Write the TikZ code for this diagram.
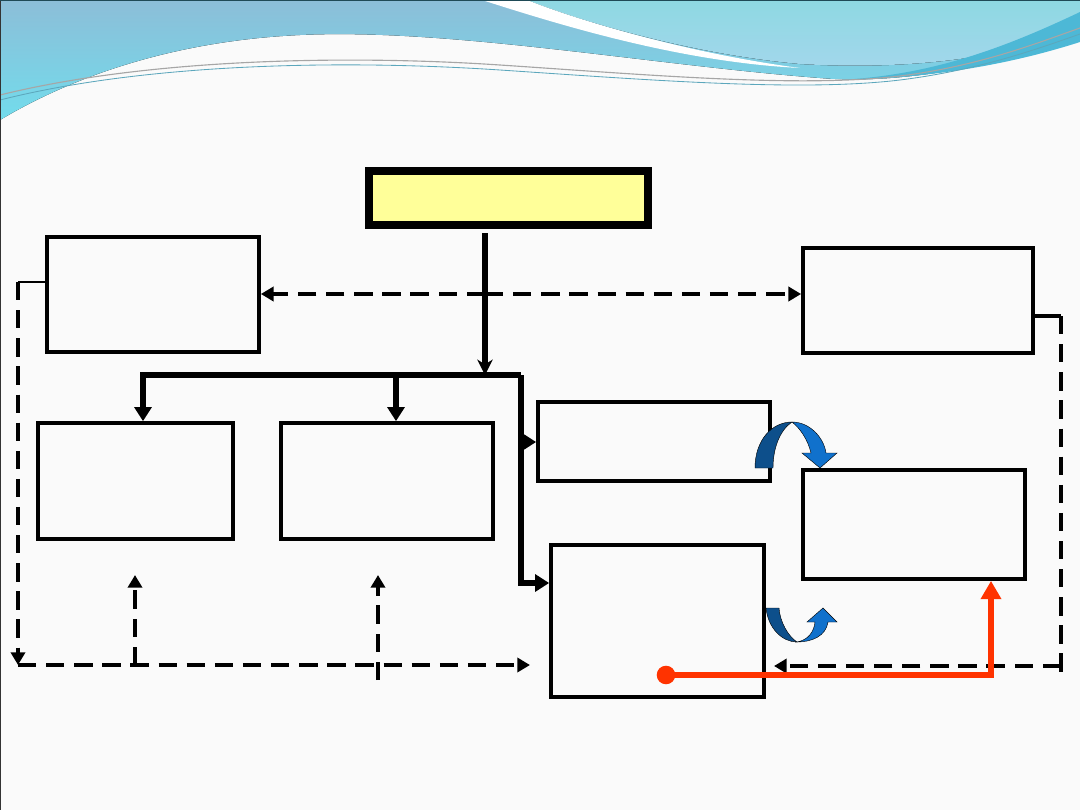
\documentclass[tikz,border=0pt]{standalone}
\usetikzlibrary{arrows.meta}
\definecolor{boxyellow}{HTML}{FFFF99}
\definecolor{redline}{HTML}{FF3300}
\definecolor{bluedark}{HTML}{0D4F8B}
\definecolor{bluelight}{HTML}{1071CC}
\definecolor{skyA}{HTML}{8CBED8}
\definecolor{skyB}{HTML}{72DCEC}
\definecolor{skyC}{HTML}{8ED8E2}
\definecolor{skyD}{HTML}{A3D7EC}
\definecolor{skyE}{HTML}{4DB8D6}
\begin{document}
\begin{tikzpicture}[x=0.025cm, y=-0.025cm,
  box/.style={draw, rectangle, line width=2.6pt, inner sep=0pt},
  bus/.style={line width=4.4pt},
  dline/.style={line width=3.4pt, dash pattern=on 13pt off 7pt},
  tip/.style={-{Triangle[length=9pt,width=10pt]}},
  bigtip/.style={-{Triangle[length=10pt,width=12pt]}}]
\useasboundingbox (0,0) rectangle (1080,810);
\fill[white!98!black] (0,0) rectangle (1080,810);
\fill[top color=skyA, bottom color=skyB] (0,0) -- (1080,0) -- (1080,37) .. controls (1000,65) and (900,85) .. (820,78) .. controls (650,65) and (450,28) .. (300,35) .. controls (150,42) and (50,90) .. (0,120) -- cycle;
\fill[top color=skyC, bottom color=skyD] (527,0) -- (1080,0) -- (1080,30) .. controls (1000,60) and (900,70) .. (800,64) .. controls (700,55) and (590,25) .. (527,0) -- cycle;
\fill[white] (482,0) .. controls (560,25) and (680,62) .. (800,68) .. controls (700,55) and (590,25) .. (527,0) -- cycle;
\fill[skyE] (1080,12) .. controls (1000,50) and (930,75) .. (840,80) .. controls (950,78) and (1030,58) .. (1080,42) -- cycle;
\draw[gray!70, line width=0.8pt] (0,95) .. controls (150,58) and (350,55) .. (500,65) .. controls (650,75) and (800,88) .. (900,76) .. controls (980,66) and (1040,42) .. (1080,28);
\draw[skyE!70!gray, line width=0.6pt] (0,100) .. controls (150,62) and (350,60) .. (500,70) .. controls (650,80) and (800,92) .. (900,80) .. controls (980,70) and (1040,48) .. (1080,34);
\draw[black!80, line width=1pt] (0.5,0) -- (0.5,810);
\draw[skyE!40!black, line width=1pt] (0,0.5) -- (1080,0.5);

\node[box, fill=boxyellow, line width=5.7pt, minimum width=6.975cm, minimum height=1.35cm] (H) at (508.5,198) {};
\node[box, minimum width=5.3cm, minimum height=2.875cm] (A) at (153,294.5) {};
\node[box, minimum width=5.75cm, minimum height=2.625cm] (B) at (918,300.5) {};
\node[box, minimum width=4.875cm, minimum height=2.9cm] (C) at (135.5,481) {};
\node[box, minimum width=5.3cm, minimum height=2.9cm] (D) at (387,481) {};
\node[box, minimum width=5.8cm, minimum height=1.975cm] (E) at (654,441.5) {};
\node[box, minimum width=5.55cm, minimum height=2.725cm] (F) at (914,524.5) {};
\node[box, minimum width=5.325cm, minimum height=3.8cm] (G) at (657.5,621) {};

\coordinate (hub) at (485,375);
\coordinate (busL) at (143,375);
\coordinate (busR) at (521,375);
\coordinate (busB) at (521,583);
\coordinate (busD) at (396,375);
\coordinate (busE) at (521,442);
\draw[bus, shorten <=3pt, -{Stealth[length=11pt,width=11pt]}] (hub |- H.south) -- (hub);
\draw[bus, bigtip] (busR) -- (busL) -- (busL |- C.north);
\draw[bus, bigtip] (busD) -- (busD |- D.north);
\draw[bus, bigtip] (busR) -- (busB) -- (busB -| G.west);
\draw[bus, bigtip] (busE) -- (busE -| E.west);

\coordinate (mid) at (485,294);
\draw[dline, line width=2.6pt, tip] (mid) -- (mid -| A.east);
\draw[dline, tip] (mid) -- (mid -| B.west);

\coordinate (lt) at (18,282);
\coordinate (lb) at (18,665);
\coordinate (le) at (530,665);
\coordinate (upC) at (135,575);
\coordinate (upD) at (378,575);
\coordinate (dnD) at (378,680);
\draw[line width=0.8pt] (lt -| A.west) -- (lt);
\draw[dline, tip] (lt) -- (lb);
\draw[dline, tip] (lb) -- (le);
\draw[dline, tip] (upC |- lb) -- (upC);
\draw[dline, tip] (dnD) -- (upD);

\coordinate (rt) at (1061,316);
\coordinate (rb) at (1061,675);
\coordinate (re) at (774,666);
\draw[line width=2.6pt] (rt -| B.east) -- (rt);
\draw[dline] (rt) -- (rb);
\draw[dline, tip] (rb |- re) -- (re);

\coordinate (dot) at (666,675);
\coordinate (rc) at (991,675);
\fill[redline] (dot) circle[radius=6.6pt];
\draw[redline, line width=3.6pt, -{Triangle[length=13pt,width=14pt]}] (dot) -- (rc) -- (rc |- F.south);

\filldraw[bluedark, draw=black, line width=0.3pt] (755,468) .. controls (755,440) and (772,422) .. (792,422) .. controls (780,430) and (773,448) .. (773,468) -- cycle;
\filldraw[bluelight, draw=black, line width=0.3pt] (792,422) .. controls (810,422) and (824,438) .. (826,453) -- (837,453) -- (820,468) -- (802,453) -- (811,453) .. controls (808,440) and (800,428) .. (792,422) -- cycle;
\filldraw[bluedark, draw=black, line width=0.3pt] (766,608) .. controls (768,628) and (782,642) .. (797,642) .. controls (788,636) and (780,622) .. (779,608) -- cycle;
\filldraw[bluelight, draw=black, line width=0.3pt] (797,642) .. controls (808,640) and (814,632) .. (815,622) -- (807,622) -- (823,608) -- (837,622) -- (828,622) .. controls (826,636) and (812,642) .. (797,642) -- cycle;
\end{tikzpicture}
\end{document}
